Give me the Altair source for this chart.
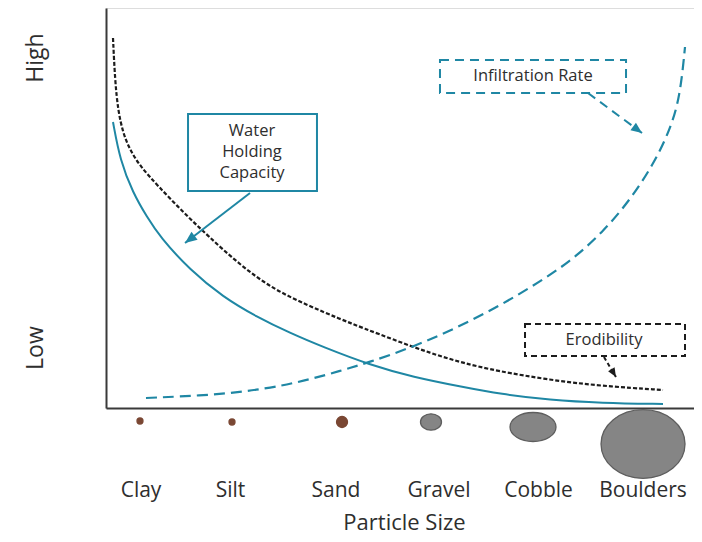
import math
import altair as alt
import pandas as pd

# ---------------- data ----------------
# x: position along the particle-size axis (0-100), y: level (0 = low, 100 = high)
whc_x = [1.19, 2.38, 4.59, 6.97, 9.18, 14.29, 19.90, 25.68, 31.29, 36.90, 44.90, 52.21, 60.71, 67.01, 75.51, 84.18, 94.73]
whc_y = [71.5, 62.0, 53.75, 47.75, 42.75, 34.5, 27.75, 22.75, 18.75, 15.25, 10.75, 7.75, 5.25, 3.5, 2.0, 1.25, 1.0]

ero_x = [1.19, 1.53, 2.04, 2.89, 4.08, 5.78, 8.84, 13.10, 17.18, 22.79, 28.40, 34.18, 39.80, 43.71, 49.49, 55.10, 60.71, 66.50, 75.51, 84.18, 94.73]
ero_y = [92.5, 82.0, 74.5, 68.75, 64.5, 60.5, 55.5, 49.0, 43.25, 35.75, 29.75, 25.75, 22.25, 20.0, 16.75, 13.75, 11.25, 9.25, 7.0, 5.5, 4.5]

inf_x = [6.80, 18.54, 27.04, 33.67, 39.80, 44.90, 51.70, 58.50, 65.31, 72.11, 78.91, 84.52, 89.12, 93.03, 95.92, 97.62, 98.47]
inf_y = [2.5, 3.25, 4.75, 6.75, 9.25, 11.5, 15.0, 19.25, 24.25, 30.0, 36.5, 44.0, 52.0, 60.75, 69.5, 77.75, 90.25]

particle_names = ["Clay", "Silt", "Sand", "Gravel", "Cobble", "Boulders"]
label_x = [5.87, 21.09, 39.03, 56.55, 73.47, 91.24]
particle_x = [5.78, 21.43, 40.14, 55.27, 72.62, 91.33]
particle_y = [-3.25, -3.5, -3.5, -3.5, -4.75, -9.0]
particle_diam = [6, 6, 11, 21, 46, 84]
particle_aspect = [1.0, 1.0, 1.0, 0.78, 0.63, 0.82]
particle_kind = ["fine", "fine", "fine", "coarse", "coarse", "coarse"]

level_names = ["Low", "High"]
level_y = [15.1, 87.6]

box_names = ["Water Holding Capacity", "Infiltration Rate", "Erodibility"]
box_x1 = [13.95, 56.80, 71.26]
box_x2 = [35.88, 88.44, 98.47]
box_y1 = [73.5, 87.0, 21.0]
box_y2 = [54.25, 78.75, 13.0]

text_lines = ["Water", "Holding", "Capacity", "Infiltration Rate", "Erodibility"]
text_x = [24.83, 24.83, 24.83, 72.62, 84.69]
text_y = [69.25, 64.0, 58.75, 83.0, 17.0]

arrow_x1 = [24.49, 81.97, 84.69]
arrow_y1 = [53.75, 78.75, 12.75]
arrow_x2 = [13.44, 91.16, 86.73]
arrow_y2 = [41.25, 68.75, 7.75]

# ---------------- style ----------------
TEAL = "#1f87a4"
DARK = "#1c1c1c"
TXT = "#2e2e2e"
AX = "#3a3a3a"
FONT = "Open Sans"
W, H = 588, 400
PXX, PXY = W / 100, H / 100

xs = alt.Scale(domain=[0, 100], nice=False, zero=False)
ys = alt.Scale(domain=[0, 100], nice=False, zero=False)

mids = [(label_x[i] + label_x[i + 1]) / 2 for i in range(len(label_x) - 1)]
expr = f"'{particle_names[-1]}'"
for i in range(len(mids) - 1, -1, -1):
    expr = f"datum.value < {mids[i]:.2f} ? '{particle_names[i]}' : ({expr})"

x_axis = alt.Axis(values=label_x, labelExpr=expr, title="Particle Size", ticks=False, tickSize=0,
                  grid=False, domainColor=AX, domainWidth=2, labelPadding=88,
                  labelBaseline="alphabetic", labelAlign="center", labelFontSize=21, labelFont=FONT,
                  labelColor=TXT, labelFlush=False, labelOverlap=False, titleFontSize=22,
                  titleFont=FONT, titleFontWeight="normal", titleColor=TXT, titleX=298, titleY=121,
                  titleBaseline="alphabetic", titleAlign="center")
y_axis = alt.Axis(values=level_y, labelExpr=f"datum.value < 50 ? '{level_names[0]}' : '{level_names[1]}'",
                  title=None, ticks=False, tickSize=0, grid=False, domainColor=AX, domainWidth=2,
                  labelAngle=270, labelAlign="center", labelBaseline="alphabetic", labelPadding=64,
                  labelFontSize=23, labelFont=FONT, labelColor=TXT, labelFlush=False, labelOverlap=False)


def X(f="x"):
    return alt.X(f"{f}:Q", scale=xs, axis=x_axis)


def Y(f="y"):
    return alt.Y(f"{f}:Q", scale=ys, axis=y_axis)


def xy(xv, yv):
    return pd.DataFrame({"x": xv, "y": yv})


whc = alt.Chart(xy(whc_x, whc_y)).mark_line(color=TEAL, strokeWidth=2, interpolate="basis").encode(x=X(), y=Y())
ero = alt.Chart(xy(ero_x, ero_y)).mark_line(color=DARK, strokeWidth=2.2, strokeDash=[4, 2], interpolate="basis").encode(x=X(), y=Y())
inf = alt.Chart(xy(inf_x, inf_y)).mark_line(color=TEAL, strokeWidth=2.2, strokeDash=[11, 6], interpolate="basis").encode(x=X(), y=Y())


def ellipse(a):
    return f"M-1,0A1,{a},0,1,1,1,0A1,{a},0,1,1,-1,0Z"


pdf = pd.DataFrame({
    "x": particle_x, "y": particle_y,
    "size": [d * d for d in particle_diam],
    "shape": [ellipse(a) for a in particle_aspect],
    "fill": ["#7a4733" if k == "fine" else "#858585" for k in particle_kind],
    "stroke": ["#7a4733" if k == "fine" else "#5e5e5e" for k in particle_kind],
})
particles = alt.Chart(pdf).mark_point(filled=True, opacity=1, strokeWidth=1.3).encode(
    x=X(), y=Y(),
    size=alt.Size("size:Q", scale=None),
    shape=alt.Shape("shape:N", scale=None),
    fill=alt.Fill("fill:N", scale=None),
    stroke=alt.Stroke("stroke:N", scale=None),
)


def box(i, color, dash):
    d = pd.DataFrame({"x": [box_x1[i]], "x2": [box_x2[i]], "y": [box_y1[i]], "y2": [box_y2[i]]})
    kw = dict(fill="white", stroke=color, strokeWidth=2)
    if dash:
        kw["strokeDash"] = dash
    return alt.Chart(d).mark_rect(**kw).encode(x=X(), x2="x2:Q", y=Y(), y2="y2:Q")


boxes = [box(0, TEAL, None), box(1, TEAL, [9, 6]), box(2, DARK, [6, 4])]

texts = alt.Chart(pd.DataFrame({"x": text_x, "y": text_y, "t": text_lines})).mark_text(
    font=FONT, fontSize=16.5, color=TXT, align="center", baseline="middle"
).encode(x=X(), y=Y(), text="t:N")


def arrow(i, color, dash):
    d = pd.DataFrame({"x": [arrow_x1[i]], "y": [arrow_y1[i]], "x2": [arrow_x2[i]], "y2": [arrow_y2[i]]})
    kw = dict(color=color, strokeWidth=2)
    if dash:
        kw["strokeDash"] = dash
    return alt.Chart(d).mark_rule(**kw).encode(x=X(), y=Y(), x2="x2:Q", y2="y2:Q")


arrows = [arrow(0, TEAL, None), arrow(1, TEAL, [9, 6]), arrow(2, DARK, [4, 3])]

angles = []
for i in range(3):
    dx = (arrow_x2[i] - arrow_x1[i]) * PXX
    dy = -(arrow_y2[i] - arrow_y1[i]) * PXY
    angles.append(math.degrees(math.atan2(dy, dx)) % 360)
head_len = [12, 11, 9]
hdf = pd.DataFrame({
    "x": arrow_x2, "y": arrow_y2, "angle": angles,
    "size": [(2 * L) ** 2 for L in head_len],
    "color": [TEAL, TEAL, DARK],
})
heads = alt.Chart(hdf).mark_point(filled=True, opacity=1, shape="M0,0L-1,-0.42L-1,0.42Z").encode(
    x=X(), y=Y(),
    angle=alt.Angle("angle:Q", scale=None),
    size=alt.Size("size:Q", scale=None),
    fill=alt.Fill("color:N", scale=None),
)

chart = alt.layer(whc, ero, inf, particles, *boxes, texts, *arrows, heads).properties(
    width=W, height=H,
    autosize=alt.AutoSizeParams(type="none"),
    padding={"left": 98, "top": 0, "right": 0, "bottom": 126},
).configure_view(stroke=None).configure(background="white")

chart.save("out.html", embed_options={"renderer": "svg", "actions": False})
